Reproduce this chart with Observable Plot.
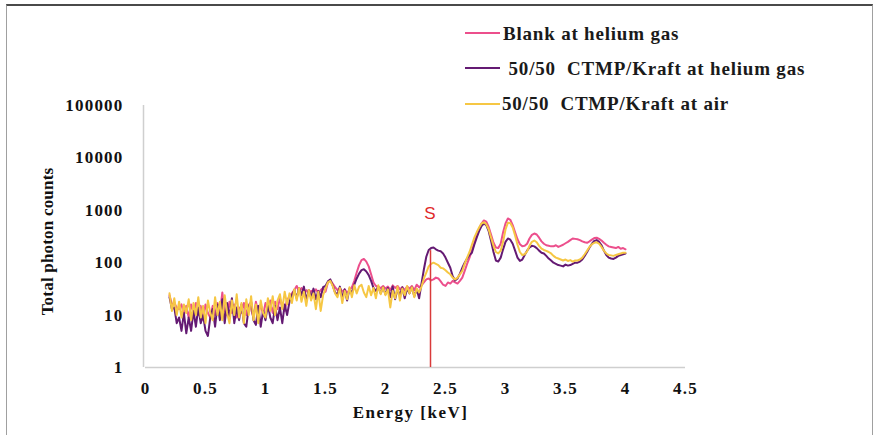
<!DOCTYPE html>
<html>
<head>
<meta charset="utf-8">
<script src="https://cdn.jsdelivr.net/npm/d3@7"></script>
<script src="https://cdn.jsdelivr.net/npm/@observablehq/plot@0.6"></script>
<style>
html, body { margin: 0; padding: 0; background: #fff; }
#wrap { position: relative; width: 874px; height: 435px; overflow: hidden; background: #fff; }
#frame { position: absolute; left: 6px; top: 4px; width: 867px; height: 470px; box-sizing: border-box;
  border-top: 2px solid #4a4a4a; border-left: 1.5px solid #a0a0a0; border-right: 1.5px solid #a0a0a0; pointer-events: none; }
.lg { position: absolute; font-family: "Liberation Serif", "Times New Roman", serif; font-weight: bold;
  font-size: 19px; line-height: 19px; letter-spacing: 0.8px; color: #1a1a1a; white-space: pre; }
.sw { position: absolute; width: 35px; height: 0; border-top: 2px solid; }
</style>
</head>
<body>
<div id="wrap"><div id="frame"></div></div>
<script>
// Energy channels (keV), sampled every 0.02 keV from 0.20 to 4.00
const energy = d3.range(191).map(i => +(0.2 + 0.02 * i).toFixed(2));

const seriesNames = ["Blank at helium gas", " 50/50  CTMP/Kraft at helium gas", "50/50  CTMP/Kraft at air"];
const seriesColors = ["#ec4f8c", "#641a73", "#f6c744"];

const blankHelium = [
  24, 16, 17, 14, 13, 16, 10, 15, 9, 16,
  11, 17, 10, 15, 8, 16, 11, 9, 15, 10,
  17, 11, 27, 12, 10, 18, 11, 16, 9, 14,
  11, 17, 10, 16, 13, 9, 18, 11, 16, 10,
  17, 12, 19, 11, 18, 13, 21, 14, 12, 20,
  22, 26, 30, 36, 28, 33, 27, 30, 25, 29,
  27, 31, 26, 30, 33, 28, 42, 46, 40, 34,
  30, 33, 28, 31, 27, 30, 34, 45, 65, 90,
  112, 118, 105, 85, 60, 42, 36, 34, 33, 36,
  32, 35, 30, 37, 33, 36, 31, 34, 30, 35,
  32, 36, 30, 38, 34, 37, 42, 48, 50, 46,
  48, 52, 50, 44, 38, 36, 42, 40, 45, 42,
  40, 45, 52, 70, 95, 125, 170, 240, 330, 450,
  560, 640, 610, 480, 340, 240, 195, 190, 230, 380,
  560, 700, 660, 520, 380, 280, 225, 205, 210, 230,
  290, 340, 360, 345, 300, 255, 230, 215, 210, 205,
  205, 215, 200, 210, 220, 235, 250, 270, 290, 285,
  280, 270, 255, 245, 240, 255, 275, 295, 300, 285,
  265, 240, 220, 205, 200, 195, 190, 200, 185, 190,
  180
];

const mixHelium = [
  22, 13, 14, 7, 9, 5, 11, 4.5, 9, 5,
  12, 6, 14, 7, 10, 5, 4, 9, 13, 6,
  16, 8, 20, 7, 17, 9, 21, 7, 14, 8,
  16, 7, 6, 14, 18, 8, 6.5, 15, 6, 12,
  8, 16, 9, 7, 15, 8, 14, 7, 16, 10,
  18, 24, 30, 21, 33, 24, 35, 19, 30, 22,
  32, 20, 29, 22, 34, 36, 44, 48, 37, 27,
  25, 35, 21, 31, 19, 32, 26, 38, 50, 62,
  72, 75, 68, 58, 45, 33, 29, 35, 26, 34,
  25, 33, 22, 35, 20, 31, 24, 34, 21, 32,
  26, 34, 23, 31, 21, 40, 75, 130, 175, 190,
  195, 180, 170, 165, 150, 125, 100, 80, 55, 46,
  50, 62, 80, 100, 120, 140, 155, 220, 300, 400,
  500, 560, 520, 400, 260, 160, 110, 105, 125, 180,
  250, 290, 275, 230, 170, 125, 108, 115, 140, 170,
  195, 210, 205, 190, 170, 155, 150, 135, 120, 110,
  100, 95, 90, 88, 85, 92, 88, 90, 95, 100,
  100, 105, 115, 135, 160, 195, 230, 260, 270, 250,
  215, 170, 140, 125, 120, 118, 125, 135, 140, 145,
  150
];

const mixAir = [
  26, 12, 21, 10, 18, 9, 16, 11, 20, 8,
  17, 10, 22, 9, 15, 7, 19, 11, 8, 22,
  10, 18, 8, 24, 11, 7, 19, 10, 25, 9,
  17, 7, 20, 10, 23, 8, 16, 7, 19, 11,
  9, 21, 12, 23, 10, 19, 25, 13, 28, 16,
  26, 17, 31, 19, 33, 18, 28, 15, 30, 19,
  26, 13, 28, 12, 24, 32, 42, 45, 36, 26,
  22, 33, 17, 29, 20, 34, 22, 37, 26, 35,
  38, 27, 22, 36, 24, 33, 21, 37, 25, 34,
  24, 31, 14, 29, 21, 35, 19, 32, 24, 36,
  26, 34, 22, 32, 27, 35, 50, 65, 85, 95,
  100, 95, 90, 80, 78, 72, 65, 60, 52, 48,
  52, 60, 70, 95, 125, 160, 220, 300, 380, 470,
  560, 590, 540, 430, 300, 210, 160, 150, 170, 250,
  430, 580, 570, 470, 330, 220, 160, 140, 145, 165,
  210, 250, 265, 245, 210, 185, 175, 168, 160, 150,
  135, 125, 120, 115, 110, 115, 108, 112, 105, 110,
  110, 115, 125, 145, 170, 200, 225, 240, 245, 230,
  200, 170, 150, 140, 138, 135, 140, 145, 150, 155,
  155
];

const xTicks = [0, 0.5, 1, 1.5, 2, 2.5, 3, 3.5, 4, 4.5];
const yTicks = [1, 10, 100, 1000, 10000, 100000];
const xLabel = "Energy [keV]";
const yLabel = "Total photon counts";
const sulfurLine = [{energy: 2.375, top: 170, label: "S", labelY: 870}];

const rows = energy.map((e, i) => ({e, blank: blankHelium[i], mixHe: mixHelium[i], mixAir: mixAir[i]}));
const keys = ["blank", "mixHe", "mixAir"];

const svg = Plot.plot({
  width: 874,
  height: 435,
  marginLeft: 145,
  marginRight: 189,
  marginTop: 105,
  marginBottom: 68,
  style: {fontFamily: '"Liberation Serif", "Times New Roman", serif', fontWeight: "bold", fontSize: "17px",
          color: "#111", background: "transparent", letterSpacing: "1.2px", overflow: "visible"},
  x: {domain: [0, 4.5]},
  y: {type: "log", domain: [1, 100000]},
  marks: [
    Plot.ruleY([1], {stroke: "#cfcfcf", strokeWidth: 1.5}),
    Plot.ruleX([0], {stroke: "#cfcfcf", strokeWidth: 1.5, dx: -2}),
    Plot.axisX({ticks: xTicks, tickSize: 0, tickPadding: 14, tickFormat: d => String(d), label: null}),
    Plot.axisY({ticks: yTicks, tickSize: 0, tickPadding: 22, tickFormat: d => String(d), label: null}),
    ...keys.map((k, j) => Plot.line(rows, {x: "e", y: k, stroke: seriesColors[j], strokeWidth: 2})),
    Plot.ruleX(sulfurLine, {x: "energy", y1: 1, y2: "top", stroke: "#d93a3a", strokeWidth: 1.5}),
    Plot.text(sulfurLine, {x: "energy", y: "labelY", text: "label", fill: "#e02a2a",
      fontFamily: '"Liberation Sans", Arial, sans-serif', fontWeight: "normal", fontSize: 17}),
    Plot.text([xLabel], {frameAnchor: "bottom", dy: 45, dx: -5, lineAnchor: "middle", text: d => d}),
    Plot.text([yLabel], {frameAnchor: "left", dx: -98, dy: 5, rotate: -90, textAnchor: "middle", lineAnchor: "middle", text: d => d})
  ]
});
svg.style.position = "absolute";
svg.style.left = "0px";
svg.style.top = "0px";
d3.select(svg).selectAll("text").filter(function() { return this.textContent === yLabel; })
  .style("letter-spacing", "0.2px");
d3.select(svg).selectAll("text").filter(function() { return this.textContent === xLabel; })
  .style("letter-spacing", "1.5px");

const wrap = document.getElementById("wrap");
wrap.insertBefore(svg, wrap.firstChild);

// Legend (HTML overlay)
const legendLineY = [33, 68, 104];
const legendTextTop = [23.5, 58.5, 93.5];
const legendTextLeft = [503, 503, 502];
seriesNames.forEach((name, j) => {
  const sw = document.createElement("div");
  sw.className = "sw";
  sw.style.left = "465px";
  sw.style.top = (legendLineY[j] - 1) + "px";
  sw.style.borderTopColor = seriesColors[j];
  wrap.appendChild(sw);
  const t = document.createElement("div");
  t.className = "lg";
  t.style.left = legendTextLeft[j] + "px";
  t.style.top = legendTextTop[j] + "px";
  t.textContent = name;
  wrap.appendChild(t);
});
</script>
</body>
</html>
